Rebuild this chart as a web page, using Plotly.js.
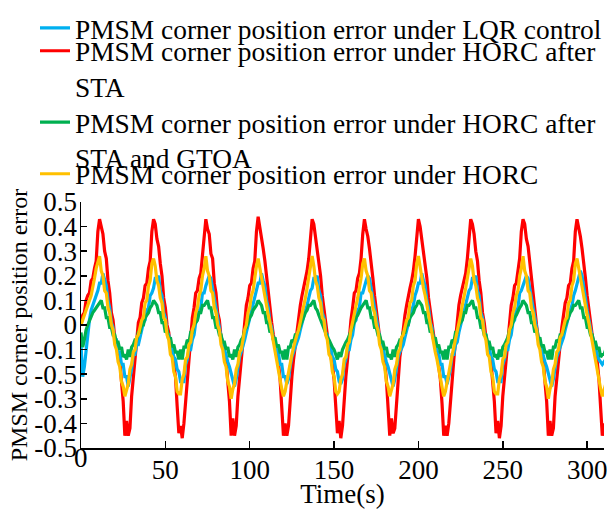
<!DOCTYPE html>
<html>
<head>
<meta charset="utf-8">
<script src="https://cdn.plot.ly/plotly-3.0.1.min.js"></script>
<style>
html,body{margin:0;padding:0;background:#fff;}
#chart{width:607px;height:509px;}
</style>
</head>
<body>
<div id="chart"></div>
<script>
// Sampling: one value per second, t = 0 ... 311 s
const lqrError = [
-0.08,-0.21,-0.17,-0.10,-0.03,0.02,0.06,0.08,0.10,0.12,0.14,
0.17,0.17,0.21,0.18,0.16,0.10,0.07,0.01,-0.01,-0.06,-0.06,-0.11,-0.11,-0.16,-0.16,-0.21,-0.21,-0.25,-0.21,-0.18,-0.12,-0.12,-0.08,-0.08,-0.05,-0.02,0.01,0.02,0.06,0.07,0.12,0.13,
0.15,0.19,0.19,0.20,0.14,0.12,0.05,0.03,-0.03,-0.04,-0.08,-0.09,-0.13,-0.14,-0.18,-0.19,-0.23,-0.23,-0.23,-0.16,-0.14,-0.10,-0.10,-0.06,-0.04,0.01,0.02,0.06,0.07,0.13,0.13,
0.16,0.18,0.20,0.19,0.15,0.11,0.06,0.02,-0.02,-0.05,-0.07,-0.10,-0.12,-0.15,-0.17,-0.20,-0.22,-0.25,-0.22,-0.17,-0.13,-0.11,-0.09,-0.06,-0.03,0.00,0.03,0.05,0.08,0.12,0.14,
0.17,0.17,0.21,0.18,0.16,0.10,0.07,0.01,-0.01,-0.06,-0.06,-0.11,-0.11,-0.16,-0.16,-0.21,-0.21,-0.24,-0.22,-0.17,-0.13,-0.11,-0.09,-0.07,-0.05,-0.02,0.01,0.03,0.06,0.08,0.11,0.14,
0.15,0.19,0.19,0.20,0.14,0.12,0.05,0.03,-0.03,-0.04,-0.08,-0.09,-0.13,-0.14,-0.18,-0.19,-0.23,-0.24,-0.22,-0.16,-0.14,-0.10,-0.10,-0.06,-0.04,0.01,0.02,0.06,0.07,0.13,0.13,
0.16,0.18,0.20,0.19,0.15,0.11,0.06,0.02,-0.02,-0.05,-0.07,-0.10,-0.12,-0.15,-0.17,-0.20,-0.22,-0.25,-0.22,-0.17,-0.13,-0.11,-0.09,-0.08,-0.05,-0.02,0.01,0.03,0.06,0.08,0.12,0.14,
0.17,0.17,0.21,0.18,0.16,0.10,0.07,0.01,-0.01,-0.06,-0.06,-0.11,-0.11,-0.16,-0.16,-0.21,-0.21,-0.24,-0.21,-0.18,-0.12,-0.12,-0.08,-0.07,-0.03,0.00,0.03,0.05,0.08,0.12,0.14,
0.15,0.19,0.19,0.20,0.14,0.12,0.05,0.03,-0.03,-0.04,-0.08,-0.09,-0.13,-0.14,-0.18,-0.19,-0.23,-0.23,-0.23,-0.16,-0.14,-0.10,-0.10,-0.06,-0.04,0.01,0.02,0.06,0.07,0.13,0.14,
0.16,0.18,0.20,0.19,0.15,0.11,0.06,0.02,-0.02,-0.05,-0.07,-0.10,-0.12,-0.15,-0.17,-0.20,-0.22,-0.25,-0.22,-0.17,-0.13,-0.11,-0.09,-0.08,-0.05,-0.02,0.01,0.03,0.06,0.08,0.12,0.14,
0.17,0.19,0.22,0.20,0.16,0.11,0.06,0.02,-0.02,-0.05,-0.07,-0.10,-0.12,-0.14,-0.15,-0.16,-0.15,-0.16
];
const horcStaError = [
0.00,0.04,0.05,0.10,0.12,0.13,0.18,0.19,0.23,0.26,0.38,
0.43,0.40,0.37,0.30,0.27,0.18,0.13,0.05,0.02,-0.05,-0.07,-0.13,-0.14,-0.23,-0.31,-0.45,-0.39,-0.45,-0.42,-0.29,-0.22,-0.13,-0.07,0.01,0.03,0.09,0.11,0.16,0.17,0.23,0.26,0.38,
0.43,0.41,0.35,0.32,0.25,0.20,0.11,0.07,0.00,-0.03,-0.09,-0.11,-0.16,-0.21,-0.33,-0.44,-0.41,-0.46,-0.40,-0.31,-0.20,-0.15,-0.05,0.03,0.07,0.13,0.14,0.19,0.21,0.28,0.36,
0.43,0.39,0.37,0.29,0.27,0.17,0.13,0.05,0.02,-0.05,-0.07,-0.13,-0.14,-0.23,-0.31,-0.45,-0.38,-0.45,-0.41,-0.29,-0.22,-0.13,-0.07,0.02,0.08,0.11,0.16,0.17,0.23,0.26,0.38,
0.44,0.40,0.36,0.31,0.26,0.19,0.12,0.06,0.01,-0.04,-0.08,-0.12,-0.15,-0.22,-0.32,-0.45,-0.40,-0.45,-0.41,-0.30,-0.21,-0.14,-0.08,-0.02,0.03,0.08,0.12,0.15,0.18,0.22,0.27,0.37,
0.43,0.41,0.36,0.30,0.25,0.20,0.12,0.06,0.00,-0.04,-0.09,-0.12,-0.16,-0.22,-0.32,-0.44,-0.39,-0.46,-0.41,-0.30,-0.21,-0.14,-0.05,0.02,0.07,0.13,0.14,0.19,0.21,0.27,0.37,
0.43,0.39,0.36,0.31,0.26,0.19,0.12,0.06,0.01,-0.05,-0.08,-0.12,-0.15,-0.22,-0.33,-0.45,-0.38,-0.44,-0.42,-0.31,-0.21,-0.13,-0.08,-0.01,0.04,0.08,0.12,0.15,0.18,0.22,0.28,0.37,
0.43,0.40,0.35,0.31,0.25,0.19,0.11,0.06,0.00,-0.04,-0.09,-0.11,-0.16,-0.22,-0.32,-0.45,-0.41,-0.45,-0.40,-0.30,-0.20,-0.14,-0.06,0.02,0.08,0.12,0.15,0.18,0.21,0.27,0.37,
0.43,0.41,0.37,0.30,0.26,0.18,0.13,0.05,0.01,-0.05,-0.08,-0.12,-0.15,-0.23,-0.31,-0.44,-0.39,-0.46,-0.41,-0.29,-0.22,-0.13,-0.06,0.01,0.08,0.11,0.16,0.17,0.22,0.27,0.38,
0.43,0.41,0.35,0.32,0.25,0.20,0.11,0.07,0.00,-0.05,-0.07,-0.13,-0.14,-0.23,-0.31,-0.45,-0.39,-0.45,-0.42,-0.29,-0.22,-0.13,-0.07,-0.01,0.04,0.09,0.11,0.16,0.17,0.23,0.26,0.38,
0.43,0.40,0.36,0.31,0.26,0.19,0.12,0.06,0.01,-0.04,-0.08,-0.12,-0.15,-0.22,-0.32,-0.45,-0.40,-0.45
];
const horcStaGtoaError = [
-0.03,-0.09,-0.06,-0.02,0.00,0.02,0.03,0.05,0.06,0.07,0.08,
0.09,0.10,0.07,0.07,0.03,0.03,-0.01,-0.01,-0.04,-0.04,-0.07,-0.07,-0.10,-0.09,-0.13,-0.12,-0.14,-0.10,-0.13,-0.09,-0.08,-0.06,-0.06,-0.03,-0.03,0.00,0.00,0.03,0.04,0.05,0.07,0.08,
0.10,0.09,0.08,0.05,0.05,0.01,0.01,-0.03,-0.02,-0.06,-0.05,-0.09,-0.08,-0.11,-0.11,-0.14,-0.10,-0.14,-0.09,-0.09,-0.06,-0.07,-0.03,-0.03,0.00,0.01,0.02,0.05,0.05,0.08,0.08,
0.09,0.10,0.07,0.07,0.03,0.03,-0.01,-0.01,-0.04,-0.04,-0.07,-0.07,-0.10,-0.09,-0.13,-0.12,-0.14,-0.10,-0.13,-0.09,-0.08,-0.06,-0.05,-0.02,-0.01,0.01,0.03,0.04,0.06,0.07,0.08,
0.10,0.09,0.08,0.05,0.05,0.01,0.01,-0.03,-0.02,-0.06,-0.05,-0.09,-0.08,-0.11,-0.11,-0.14,-0.10,-0.14,-0.09,-0.09,-0.06,-0.07,-0.04,-0.04,-0.02,0.00,0.01,0.03,0.05,0.06,0.08,0.08,
0.09,0.10,0.07,0.06,0.04,0.02,0.00,-0.02,-0.03,-0.05,-0.06,-0.08,-0.09,-0.10,-0.12,-0.14,-0.11,-0.13,-0.10,-0.08,-0.07,-0.06,-0.04,-0.02,-0.01,0.01,0.03,0.04,0.06,0.07,0.08,
0.09,0.10,0.07,0.07,0.03,0.03,-0.01,-0.01,-0.04,-0.04,-0.07,-0.07,-0.10,-0.09,-0.13,-0.12,-0.14,-0.10,-0.13,-0.09,-0.08,-0.06,-0.06,-0.03,-0.03,0.00,0.00,0.03,0.04,0.05,0.07,0.08,
0.10,0.09,0.08,0.05,0.05,0.01,0.01,-0.03,-0.02,-0.06,-0.05,-0.09,-0.08,-0.11,-0.11,-0.14,-0.10,-0.14,-0.09,-0.09,-0.06,-0.07,-0.03,-0.03,0.00,0.01,0.02,0.05,0.05,0.08,0.08,
0.09,0.10,0.07,0.07,0.03,0.03,-0.01,-0.01,-0.04,-0.04,-0.07,-0.07,-0.10,-0.09,-0.13,-0.12,-0.14,-0.10,-0.13,-0.09,-0.08,-0.06,-0.05,-0.02,-0.01,0.01,0.03,0.04,0.06,0.07,0.08,
0.10,0.09,0.08,0.05,0.05,0.01,0.01,-0.03,-0.02,-0.06,-0.05,-0.09,-0.08,-0.11,-0.11,-0.14,-0.10,-0.14,-0.09,-0.09,-0.06,-0.07,-0.04,-0.04,-0.02,0.00,0.01,0.03,0.05,0.06,0.08,0.08,
0.09,0.10,0.07,0.07,0.03,0.03,-0.01,-0.01,-0.04,-0.04,-0.07,-0.07,-0.10,-0.09,-0.13,-0.12,-0.12,-0.10
];
const horcError = [
0.00,0.02,0.04,0.06,0.07,0.10,0.12,0.15,0.19,0.23,0.26,
0.28,0.22,0.20,0.14,0.13,0.07,0.05,0.00,-0.02,-0.08,-0.10,-0.15,-0.17,-0.23,-0.25,-0.29,-0.26,-0.24,-0.18,-0.16,-0.11,-0.10,-0.05,-0.04,-0.01,0.02,0.03,0.09,0.10,0.16,0.18,0.25,
0.27,0.24,0.18,0.16,0.11,0.09,0.03,0.02,-0.04,-0.06,-0.12,-0.13,-0.19,-0.21,-0.27,-0.28,-0.28,-0.22,-0.20,-0.14,-0.13,-0.08,-0.07,-0.02,0.00,0.05,0.07,0.12,0.14,0.20,0.23,
0.28,0.22,0.20,0.14,0.13,0.07,0.05,0.00,-0.02,-0.08,-0.10,-0.15,-0.17,-0.23,-0.25,-0.30,-0.26,-0.24,-0.18,-0.16,-0.11,-0.10,-0.05,-0.02,0.00,0.05,0.07,0.12,0.14,0.20,0.24,
0.27,0.23,0.19,0.15,0.12,0.08,0.04,0.01,-0.03,-0.07,-0.11,-0.14,-0.18,-0.22,-0.26,-0.29,-0.27,-0.23,-0.19,-0.15,-0.12,-0.09,-0.06,-0.04,-0.02,0.01,0.04,0.08,0.11,0.15,0.19,0.24,
0.28,0.24,0.18,0.16,0.11,0.09,0.03,0.02,-0.04,-0.06,-0.12,-0.13,-0.19,-0.21,-0.27,-0.28,-0.27,-0.22,-0.20,-0.14,-0.13,-0.08,-0.07,-0.02,0.01,0.04,0.08,0.11,0.15,0.19,0.25,
0.27,0.22,0.20,0.14,0.13,0.07,0.05,0.00,-0.02,-0.08,-0.10,-0.15,-0.17,-0.23,-0.25,-0.29,-0.26,-0.24,-0.18,-0.16,-0.11,-0.10,-0.05,-0.04,-0.01,0.02,0.03,0.09,0.10,0.16,0.18,0.25,
0.28,0.23,0.19,0.15,0.12,0.08,0.04,0.01,-0.03,-0.07,-0.11,-0.14,-0.18,-0.22,-0.26,-0.29,-0.27,-0.23,-0.19,-0.15,-0.12,-0.09,-0.06,-0.03,0.01,0.04,0.08,0.11,0.15,0.19,0.24,
0.27,0.24,0.18,0.16,0.11,0.09,0.03,0.02,-0.04,-0.06,-0.12,-0.13,-0.19,-0.21,-0.27,-0.28,-0.28,-0.22,-0.20,-0.14,-0.13,-0.08,-0.07,-0.02,0.00,0.05,0.07,0.12,0.14,0.20,0.23,
0.28,0.22,0.20,0.14,0.13,0.07,0.05,0.00,-0.02,-0.08,-0.10,-0.15,-0.17,-0.23,-0.25,-0.30,-0.26,-0.24,-0.18,-0.16,-0.11,-0.10,-0.05,-0.04,-0.01,0.02,0.03,0.09,0.10,0.16,0.18,0.25,
0.27,0.23,0.19,0.15,0.12,0.08,0.04,0.01,-0.03,-0.07,-0.11,-0.14,-0.18,-0.22,-0.26,-0.29,-0.27,-0.24
];

const seriesNames = [
  'PMSM corner position error under LQR control',
  'PMSM corner position error under HORC after<br>STA',
  'PMSM corner position error under HORC after<br>STA and GTOA',
  'PMSM corner position error under HORC'
];
const xTickVals = [0, 50, 100, 150, 200, 250, 300];
const xTickText = ['', '50', '100', '150', '200', '250', '300'];
const yTickVals = [0.5, 0.4, 0.3, 0.2, 0.1, 0, -0.1, -0.2, -0.3, -0.4, -0.5];
const yTickText = ['0.5', '0.4', '0.3', '0.2', '0.1', '0', '-0.1', '-0.5', '-0.3', '-0.4', '-0.5'];
const xTitle = 'Time(s)';
const yTitle = 'PMSM corner position error';

const time = lqrError.map((_, i) => i);

const FONT = 'Liberation Serif, Times New Roman, serif';
const colors = { lqr: '#00B0F0', sta: '#FF0000', gtoa: '#00B050', horc: '#FFC000' };
const lw = 3.2;

const traces = [
  { x: time, y: horcStaError, name: seriesNames[1], mode: 'lines', line: { color: colors.sta, width: lw }, legend: 'legend2' },
  { x: time, y: lqrError, name: seriesNames[0], mode: 'lines', line: { color: colors.lqr, width: lw }, legend: 'legend' },
  { x: time, y: horcStaGtoaError, name: seriesNames[2], mode: 'lines', line: { color: colors.gtoa, width: lw }, legend: 'legend3' },
  { x: time, y: horcError, name: seriesNames[3], mode: 'lines', line: { color: colors.horc, width: lw }, legend: 'legend4' }
];

const legendBase = {
  xanchor: 'left', yanchor: 'top', valign: 'top',
  font: { family: FONT, size: 27.4, color: '#000' },
  bgcolor: 'rgba(0,0,0,0)', borderwidth: 0, itemclick: false, itemdoubleclick: false
};
const lx = (35 - 81) / 523;

const layout = {
  width: 607, height: 509,
  margin: { l: 81, r: 3, t: 200, b: 61, pad: 0 },
  paper_bgcolor: '#fff', plot_bgcolor: '#fff',
  font: { family: FONT, size: 27, color: '#000' },
  showlegend: true,
  legend: Object.assign({}, legendBase, { x: lx, y: (448 - 0) / 248 }),
  legend2: Object.assign({}, legendBase, { x: lx, y: (448 - 23) / 248 }),
  legend3: Object.assign({}, legendBase, { x: lx, y: (448 - 95) / 248 }),
  legend4: Object.assign({}, legendBase, { x: lx, y: (448 - 147) / 248 }),
  xaxis: {
    range: [0, 310], tickmode: 'array', tickvals: xTickVals, ticktext: xTickText,
    ticks: 'inside', ticklen: 7, tickwidth: 1.5, tickcolor: '#000',
    showline: true, linecolor: '#000', linewidth: 1.5, mirror: false,
    showgrid: false, zeroline: false, ticklabeloverflow: 'allow', ticklabelstandoff: -3,
    tickfont: { family: FONT, size: 27, color: '#000' },
    title: { text: xTitle, font: { family: FONT, size: 27, color: '#000' }, standoff: 0 }
  },
  yaxis: {
    range: [-0.5, 0.5], tickmode: 'array', tickvals: yTickVals, ticktext: yTickText,
    ticks: 'inside', ticklen: 6, tickwidth: 1.5, tickcolor: '#000',
    showline: true, linecolor: '#000', linewidth: 1.5, mirror: false,
    showgrid: false, zeroline: false, ticklabeloverflow: 'allow', ticklabelstandoff: -3,
    tickfont: { family: FONT, size: 27, color: '#000' },
    title: { text: yTitle, font: { family: FONT, size: 24, color: '#000' }, standoff: 0 }
  },
  annotations: [
    { x: 0, xref: 'x', y: (448 - 458) / 248, yref: 'paper', text: '0', showarrow: false,
      xanchor: 'center', yanchor: 'middle', font: { family: FONT, size: 27, color: '#000' } }
  ]
};

Plotly.newPlot('chart', traces, layout, { displayModeBar: false, staticPlot: true });
</script>
</body>
</html>
